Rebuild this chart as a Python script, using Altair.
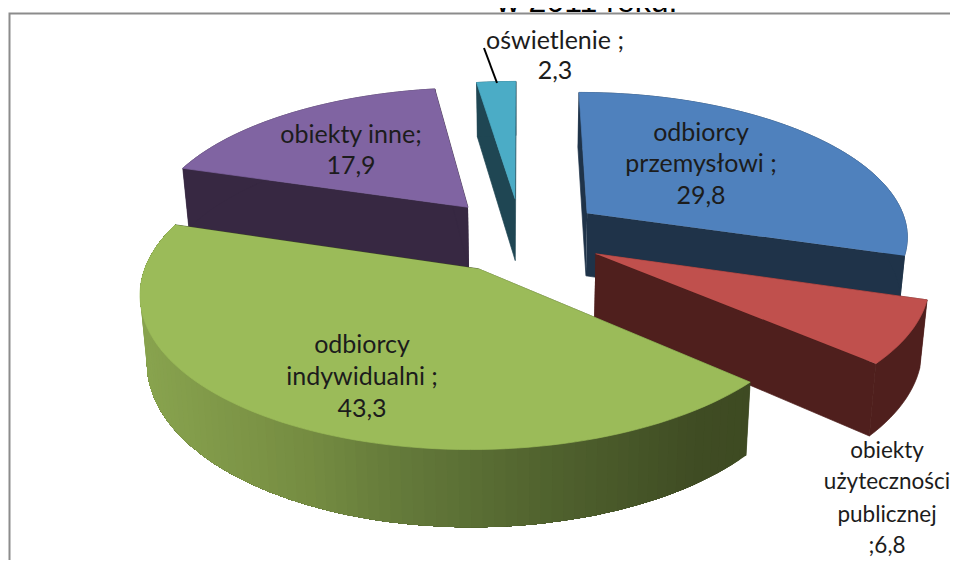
import math
import altair as alt
import pandas as pd

# --- data ---
names = ["odbiorcy przemysłowi", "obiekty użyteczności publicznej", "odbiorcy indywidualni", "obiekty inne", "oświetlenie"]
values = [29.8, 6.8, 43.3, 17.9, 2.3]
top_colors = ["#4F81BD", "#C0504D", "#9BBB59", "#8064A2", "#4BACC6"]
side_colors = ["#1F3349", "#4F1F1D", "#3F4C24", "#372842", "#1F4653"]
draw_order = [4, 3, 0, 1, 2]
title_text = "w 2011 roku."
label_lines = [
    ["odbiorcy", "przemysłowi ;", "29,8"],
    ["obiekty", "użyteczności", "publicznej", ";6,8"],
    ["odbiorcy", "indywidualni ;", "43,3"],
    ["obiekty inne;", "17,9"],
    ["oświetlenie ;", "2,3"],
]
label_x = [701, 887, 362, 351, 555]
label_y = [[141, 172, 204], [458, 489, 522, 553], [353, 385, 417], [143, 174], [49, 79]]
label_size = [25, 22.5, 25, 25, 25]

# --- 3D pie projection parameters ---
CX, CY, A, B, P = 521.0, 235.0, 336.0, 150.0, 0.15
EXPLODE, R, DEPTH, SHRINK = 0.25, 0.96, 64.0, 0.982
green_stops = [(145, (136, 163, 78)), (300, (118, 141, 66)), (400, (100, 122, 58)),
               (550, (80, 98, 46)), (700, (63, 76, 35)), (760, (62, 74, 34))]


def top_pt(X, Y):
    d = 1 + P * Y
    return CX + A * X / d, CY - B * Y / d


def bot_pt(X, Y):
    x, y = top_pt(X, Y)
    return CX + (x - CX) * SHRINK, y + DEPTH / (1 + P * Y)


def green_shade(x):
    for (x0, c0), (x1, c1) in zip(green_stops, green_stops[1:]):
        if x <= x1:
            t = max(0.0, (x - x0) / (x1 - x0))
            return "#%02x%02x%02x" % tuple(round(a + (b - a) * t) for a, b in zip(c0, c1))
    return "#%02x%02x%02x" % green_stops[-1][1]


total = sum(values)
starts, acc = [], 0.0
for v in values:
    starts.append(acc)
    acc += v / total * 2 * math.pi

rows, rim_rows, top_rows = [], [], []
pid = 0


def add_poly(store, points, color):
    global pid
    for k, (x, y) in enumerate(points):
        store.append({"x": x, "y": y, "k": k, "pid": pid, "c": color})
    pid += 1


for i in draw_order:
    a0 = starts[i]
    a1 = a0 + values[i] / total * 2 * math.pi
    mid = (a0 + a1) / 2
    ox, oy = EXPLODE * math.sin(mid), EXPLODE * math.cos(mid)
    n = max(4, int((a1 - a0) / 0.03))
    arc = [(ox + R * math.sin(a0 + (a1 - a0) * j / n), oy + R * math.cos(a0 + (a1 - a0) * j / n)) for j in range(n + 1)]
    apex = (ox, oy)
    for end in (arc[0], arc[-1]):
        add_poly(rows, [top_pt(*apex), top_pt(*end), bot_pt(*end), bot_pt(*apex)], side_colors[i])
    if i == 2:
        # overlapping shrinking bands so that no seams show between shades
        for j in range(n):
            band = arc[j:]
            color = green_shade((top_pt(*arc[j])[0] + top_pt(*arc[j + 1])[0]) / 2)
            add_poly(rim_rows, [top_pt(*p) for p in band] + [bot_pt(*p) for p in reversed(band)], color)
        add_poly(top_rows, [top_pt(*apex)] + [top_pt(*p) for p in arc], top_colors[i])
    else:
        add_poly(rows, [top_pt(*p) for p in arc] + [bot_pt(*p) for p in reversed(arc)], side_colors[i])
        add_poly(rows, [top_pt(*apex)] + [top_pt(*p) for p in arc], top_colors[i])

x_scale = alt.Scale(domain=[8, 950], range=[0, 942], nice=False, zero=False)
y_scale = alt.Scale(domain=[8, 560], range=[0, 552], nice=False, zero=False)
X = alt.X("x:Q", scale=x_scale, axis=None)
Y = alt.Y("y:Q", scale=y_scale, axis=None)


def polygons(store, width):
    return alt.Chart(pd.DataFrame(store)).mark_line(strokeWidth=width, interpolate="linear").encode(
        x=X, y=Y, order="k:Q", detail="pid:N",
        fill=alt.Fill("c:N", scale=None), stroke=alt.Stroke("c:N", scale=None),
    )


frame = alt.Chart(pd.DataFrame({"x": [9.5, 9.5, 950], "y": [560, 13.5, 13.5], "k": [0, 1, 2]})).mark_line(
    color="#8c8c8c", strokeWidth=2).encode(x=X, y=Y, order="k:Q")

leader = alt.Chart(pd.DataFrame({"x": [484, 497], "y": [48, 83], "k": [0, 1]})).mark_line(
    color="#000000", strokeWidth=2).encode(x=X, y=Y, order="k:Q")

text_rows = []
for i, lines in enumerate(label_lines):
    for line, yy in zip(lines, label_y[i]):
        text_rows.append({"x": label_x[i], "y": yy, "t": line, "s": label_size[i]})

labels = alt.Chart(pd.DataFrame(text_rows)).mark_text(
    font="Lato", color="#1c1c1c", align="center", baseline="alphabetic"
).encode(x=X, y=Y, text="t:N", size=alt.Size("s:Q", scale=None, legend=None))

title = alt.Chart(pd.DataFrame({"x": [587], "y": [12], "t": [title_text]})).mark_text(
    font="Liberation Sans", fontSize=32, color="#000000", align="center", baseline="alphabetic"
).encode(x=X, y=Y, text="t:N")

chart = alt.layer(
    frame, title, polygons(rows, 0.7), polygons(rim_rows, 0), polygons(top_rows, 0.7), leader, labels
).properties(
    width=942, height=552, padding=0, autosize=alt.AutoSizeParams(type="none"),
    background="#ffffff",
).configure_view(stroke=None)

chart.save("out.html", embed_options={"renderer": "svg", "actions": False})
